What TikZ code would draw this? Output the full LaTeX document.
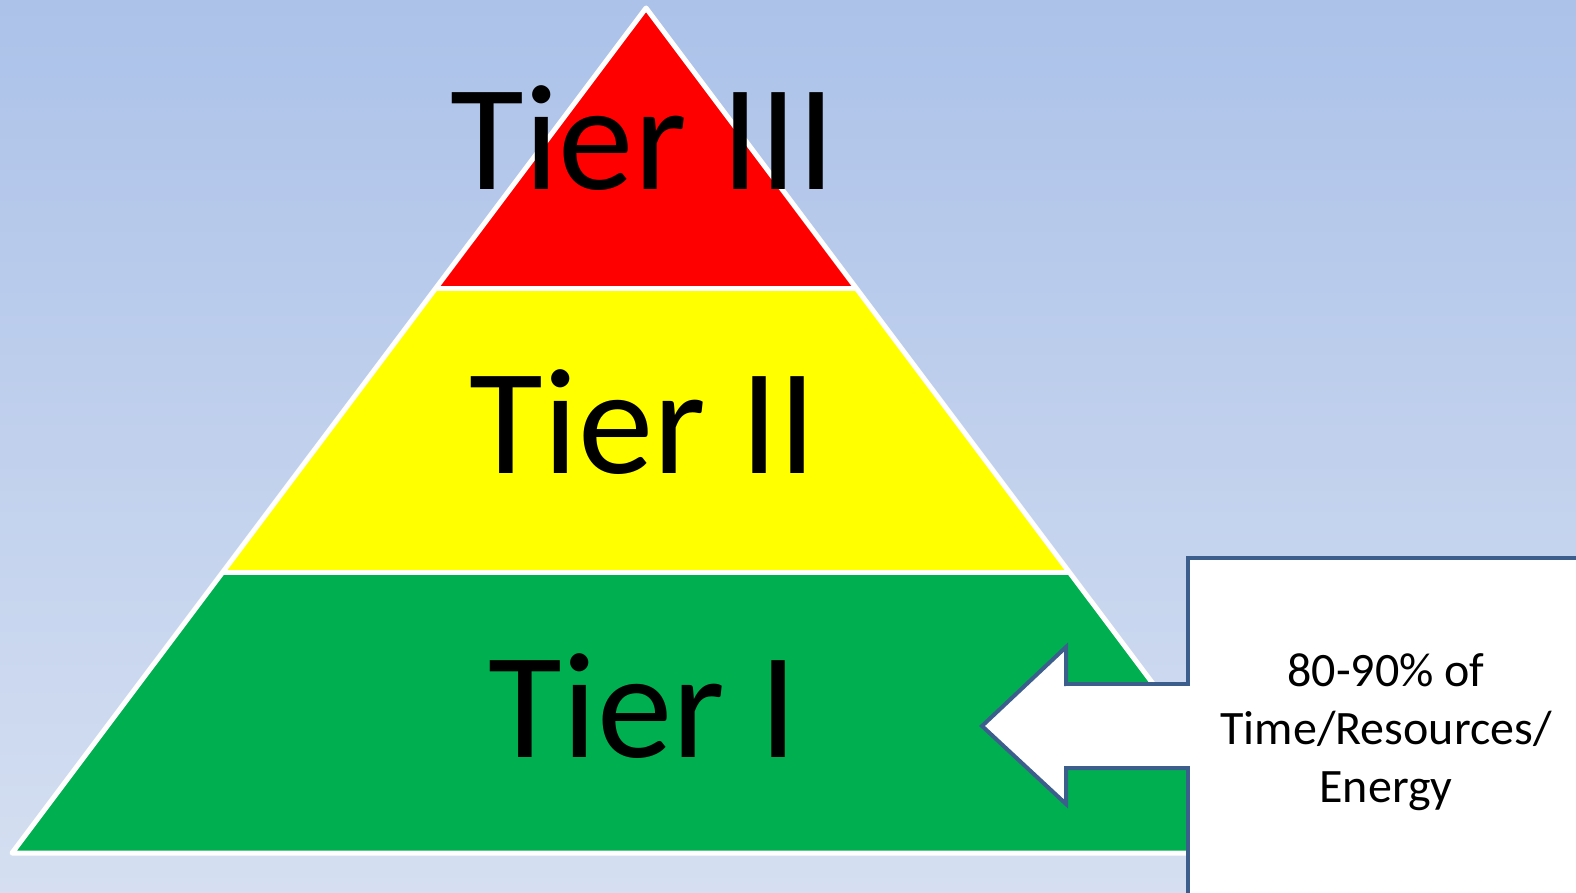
\documentclass[tikz,border=0pt]{standalone}
\usepackage{fontspec}
\setmainfont{Carlito}
\usepackage{tikz}
\usetikzlibrary{calc}
\definecolor{tierred}{RGB}{255,0,0}
\definecolor{tieryellow}{RGB}{255,255,0}
\definecolor{tiergreen}{RGB}{0,176,80}
\definecolor{bgtop}{RGB}{172,194,233}
\definecolor{bgbottom}{RGB}{213,223,241}
\definecolor{calloutline}{RGB}{59,94,140}
\tikzset{
  tier/.style={font=\fontsize{151}{153}\selectfont},
  note/.style={font=\fontsize{48}{58}\selectfont,align=center}
}

\begin{document}
\begin{tikzpicture}[x=1pt,y=-1pt]
\useasboundingbox (0,0) rectangle (1576,893);
\shade[top color=bgtop,bottom color=bgbottom] (0,0) rectangle (1576,893);
\coordinate (apex) at (646,8);
\coordinate (bl) at (12,853);
\coordinate (br) at (1280,853);
\coordinate (l2) at ($(apex)!0.3314!(bl)$);
\coordinate (r2) at ($(apex)!0.3314!(br)$);
\coordinate (l1) at ($(apex)!0.6675!(bl)$);
\coordinate (r1) at ($(apex)!0.6675!(br)$);
% bands
\fill[tierred] (apex) -- (l2) -- (r2) -- cycle;
\fill[tieryellow] (l2) -- (l1) -- (r1) -- (r2) -- cycle;
\fill[tiergreen] (l1) -- (bl) -- (br) -- (r1) -- cycle;
\draw[white,line width=5pt,line join=round] (apex) -- (bl) -- (br) -- cycle;
\draw[white,line width=5pt] (l2) -- (r2) (l1) -- (r1);
% labels
\node[tier,anchor=base] (t3) at (643,190) {Tier III};
\node[tier,anchor=base] (t2) at (643,473) {Tier II};
\node[tier,anchor=base] (t1) at (643,757) {Tier I};
% callout
\filldraw[fill=white,draw=calloutline,line width=4pt]
  (1188,900) -- (1188,558) -- (1600,558) -- (1600,900)
  (1188,684) -- (1066,684) -- (1066,647) -- (982,726) -- (1066,804) -- (1066,768) -- (1188,768);
\fill[white] (1190,560) rectangle (1600,900);
\fill[white] (1066,686) rectangle (1192,766);
\node[note] (txt) at (1386,732) {80-90\% of\\Time/Resources/\\Energy};
\end{tikzpicture}
\end{document}
